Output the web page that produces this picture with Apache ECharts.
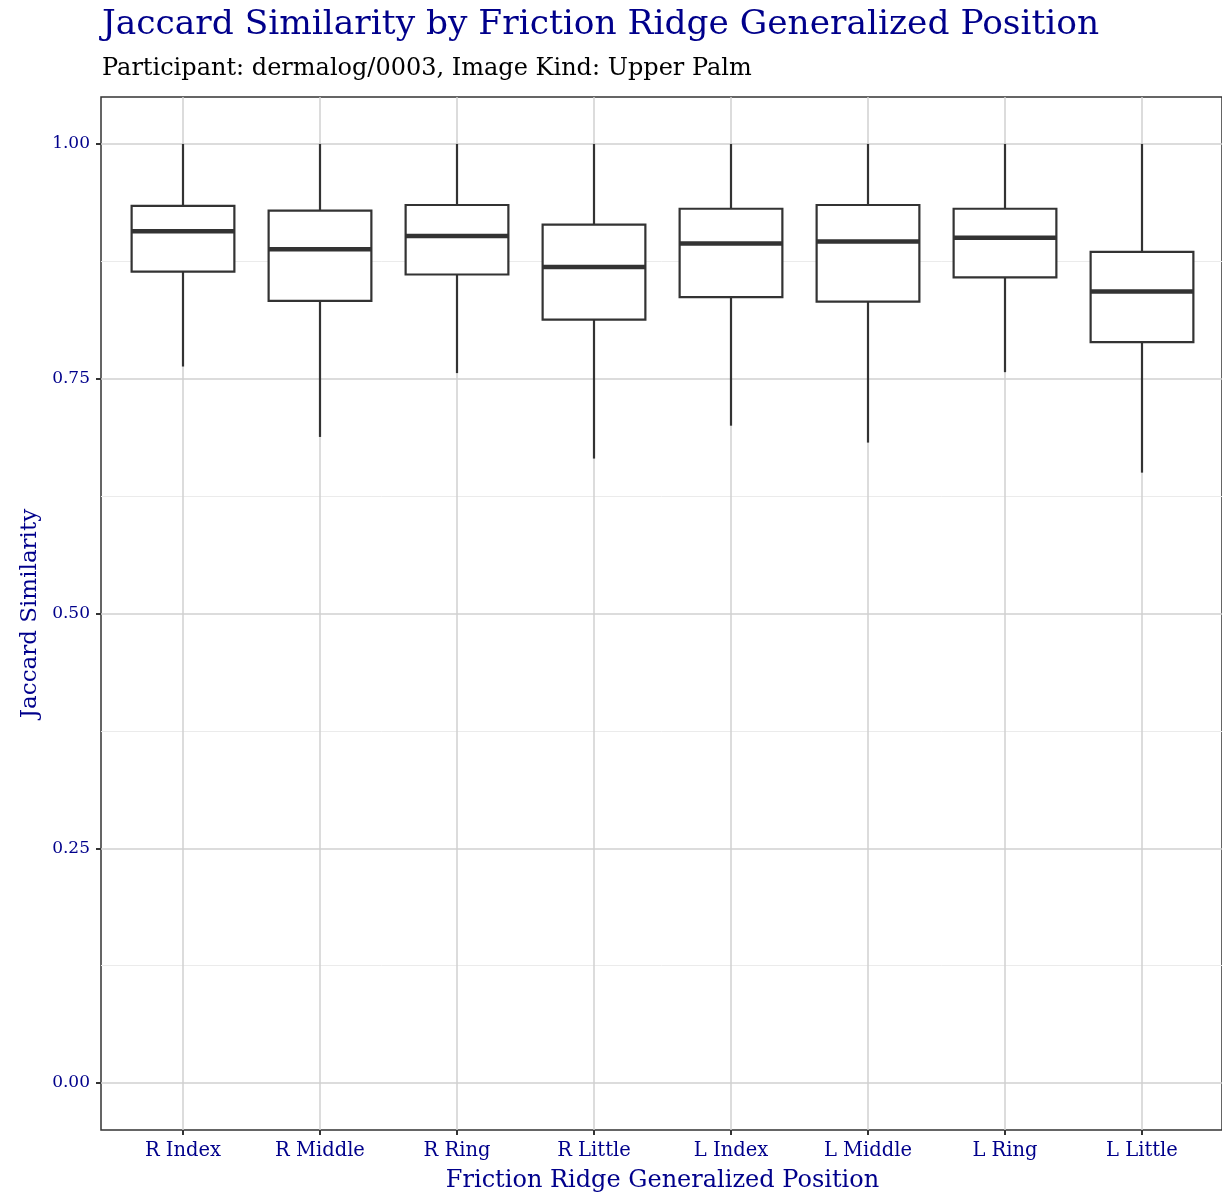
<!DOCTYPE html>
<html>
<head>
<meta charset="utf-8">
<script src="https://cdn.jsdelivr.net/npm/echarts@6/dist/echarts.min.js"></script>
<style>html,body{margin:0;padding:0;background:#fff}#chart{width:1222px;height:1199px}</style>
</head>
<body>
<div id="chart"></div>
<script>
// ---- data ----
const categories = ['R Index', 'R Middle', 'R Ring', 'R Little', 'L Index', 'L Middle', 'L Ring', 'L Little'];
const whiskerLow = [0.763, 0.688, 0.756, 0.665, 0.700, 0.682, 0.757, 0.650];
const q1Values   = [0.864, 0.833, 0.861, 0.813, 0.837, 0.832, 0.858, 0.789];
const medians    = [0.907, 0.888, 0.902, 0.869, 0.894, 0.896, 0.900, 0.843];
const q3Values   = [0.934, 0.929, 0.935, 0.914, 0.931, 0.935, 0.931, 0.885];
const whiskerHigh = [1.00, 1.00, 1.00, 1.00, 1.00, 1.00, 1.00, 1.00];
const yTicks = [0, 0.25, 0.5, 0.75, 1.0];

const FONT = 'DejaVu Serif';
const BLUE = '#00008B';
const INK = '#333333';

const boxData = categories.map((c, i) => [i, whiskerLow[i], q1Values[i], medians[i], q3Values[i], whiskerHigh[i]]);

const chart = echarts.init(document.getElementById('chart'), null, {renderer: 'canvas'});
chart.setOption({
  backgroundColor: '#ffffff',
  animation: false,
  title: [
    {text: 'Jaccard Similarity by Friction Ridge Generalized Position', left: 97, top: 3,
     textStyle: {fontFamily: FONT, fontWeight: 'normal', fontSize: 34.4, color: BLUE}},
    {text: 'Participant: dermalog/0003, Image Kind: Upper Palm', left: 97, top: 52,
     textStyle: {fontFamily: FONT, fontWeight: 'normal', fontSize: 24, color: '#000'}}
  ],
  grid: [
    {left: 101, right: 0, top: 144, bottom: 116, containLabel: false},
    {left: 183, right: 80, top: 97, bottom: 69, containLabel: false},
    {left: 101, right: 0, top: 97, bottom: 69, show: true, borderColor: INK, borderWidth: 1.5, backgroundColor: 'transparent'}
  ],
  xAxis: [
    {gridIndex: 0, type: 'value', min: 0, max: 1, show: false},
    {gridIndex: 1, type: 'category', data: categories, boundaryGap: false, position: 'bottom',
     axisLine: {show: false, onZero: false},
     axisTick: {show: true, length: 5, lineStyle: {color: INK, width: 2}},
     axisLabel: {fontFamily: FONT, fontSize: 19.5, color: BLUE, margin: 11, interval: 0},
     splitLine: {show: true, interval: 0, lineStyle: {color: '#d0d0d0', width: 1.5}},
     name: 'Friction Ridge Generalized Position', nameLocation: 'middle', nameGap: 39,
     nameTextStyle: {fontFamily: FONT, fontSize: 24, color: BLUE}},
    {gridIndex: 2, type: 'value', show: false}
  ],
  yAxis: [
    {gridIndex: 0, type: 'value', min: 0, max: 1, interval: 0.25, position: 'left',
     axisLine: {show: false, onZero: false},
     axisTick: {show: true, length: 5, lineStyle: {color: INK, width: 2}},
     axisLabel: {fontFamily: FONT, fontSize: 17, color: BLUE, margin: 11,
       formatter: v => v.toFixed(2)},
     splitLine: {show: true, lineStyle: {color: '#d0d0d0', width: 1.5}},
     minorTick: {show: false, splitNumber: 2},
     minorSplitLine: {show: true, lineStyle: {color: '#ebebeb', width: 1}},
     name: 'Jaccard Similarity', nameLocation: 'middle', nameGap: 59,
     nameTextStyle: {fontFamily: FONT, fontSize: 23, color: BLUE}},
    {gridIndex: 1, type: 'value', min: -0.05, max: 1.05, show: false},
    {gridIndex: 2, type: 'value', show: false}
  ],
  series: [
    {
      type: 'custom', xAxisIndex: 1, yAxisIndex: 1, data: boxData,
      encode: {x: 0, y: [1, 2, 3, 4, 5]},
      z: 5,
      renderItem: function (params, api) {
        const x = api.value(0);
        const pMin = api.coord([x, api.value(1)]);
        const pQ1 = api.coord([x, api.value(2)]);
        const pMed = api.coord([x, api.value(3)]);
        const pQ3 = api.coord([x, api.value(4)]);
        const pMax = api.coord([x, api.value(5)]);
        const bw = api.size([1, 0])[0];
        const half = bw * 0.375;
        const cx = pMed[0];
        const lineStyle = {stroke: INK, lineWidth: 2.2};
        return {
          type: 'group',
          children: [
            {type: 'line', shape: {x1: cx, y1: pQ3[1], x2: cx, y2: pMax[1]}, style: lineStyle},
            {type: 'line', shape: {x1: cx, y1: pQ1[1], x2: cx, y2: pMin[1]}, style: lineStyle},
            {type: 'rect', shape: {x: cx - half, y: pQ3[1], width: half * 2, height: pQ1[1] - pQ3[1]},
             style: {fill: '#ffffff', stroke: INK, lineWidth: 2.2}},
            {type: 'line', shape: {x1: cx - half, y1: pMed[1], x2: cx + half, y2: pMed[1]},
             style: {stroke: INK, lineWidth: 4.5}}
          ]
        };
      }
    }
  ]
});
</script>
</body>
</html>
